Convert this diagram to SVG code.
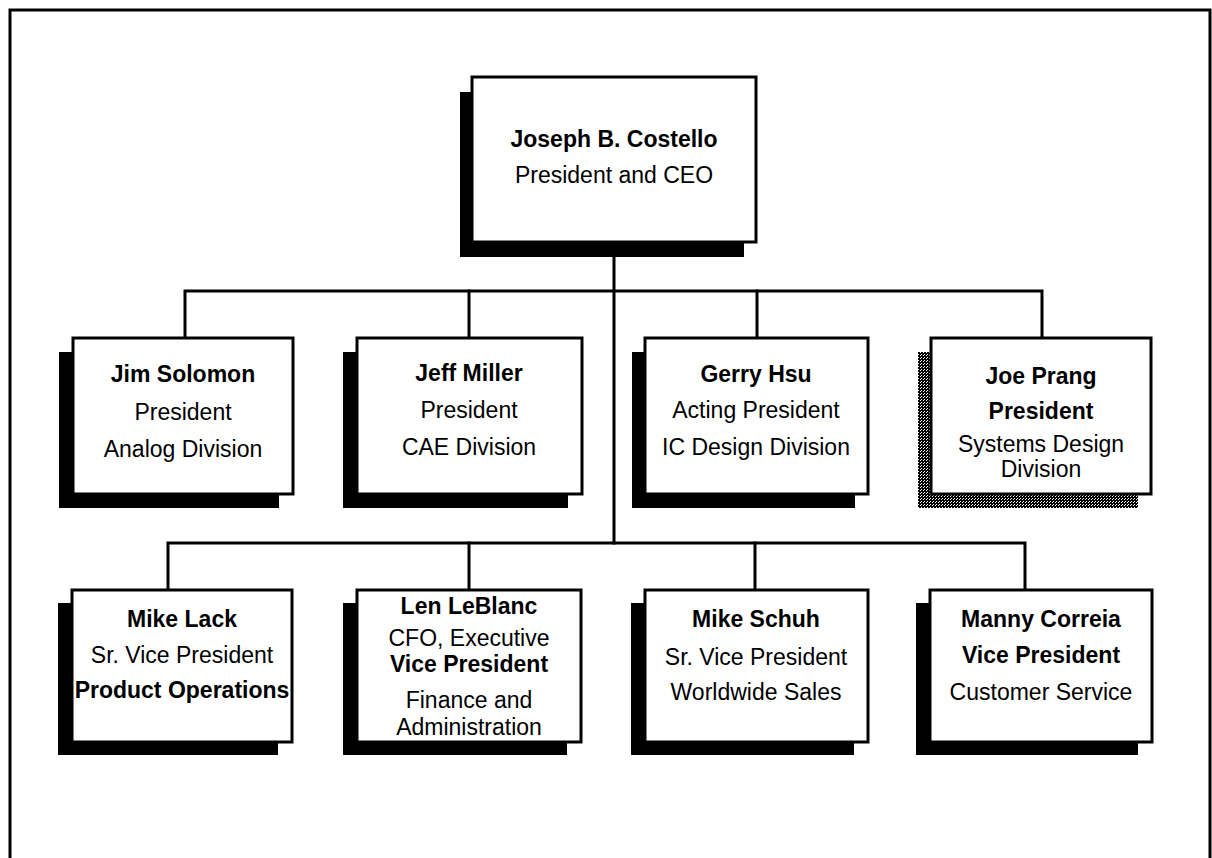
<svg xmlns="http://www.w3.org/2000/svg" width="1212" height="858" viewBox="0 0 1212 858">
<defs>
<pattern id="halftone" width="3" height="3" patternUnits="userSpaceOnUse">
<rect width="3" height="3" fill="#000"/>
<rect x="0" y="0" width="1" height="1" fill="#fff"/>
<rect x="2" y="1" width="1" height="1" fill="#fff"/>
</pattern>
</defs>
<style>
.frame{fill:none;stroke:#000;stroke-width:3}
.box{fill:#fff;stroke:#000;stroke-width:3}
.shadow{fill:#000}
.shadow-ht{fill:url(#halftone)}
.conn{fill:none;stroke:#000;stroke-width:3;stroke-linecap:square}
text{font-family:"Liberation Sans",Arial,Helvetica,sans-serif;font-size:23px;fill:#000;text-anchor:middle}
.b{font-weight:bold}
</style>
<rect width="1212" height="858" fill="#fff"/>
<rect class="frame" x="10" y="10" width="1200" height="900"/>

<g id="connectors">
<path class="conn" d="M614 242 V543"/>
<path class="conn" d="M185 338 V291 H1042 V338"/>
<path class="conn" d="M469 291 V338"/>
<path class="conn" d="M757 291 V338"/>
<path class="conn" d="M168 590 V543 H1025 V590"/>
<path class="conn" d="M469 543 V590"/>
<path class="conn" d="M755 543 V590"/>
</g>

<g id="ceo">
<rect class="shadow" x="460" y="92" width="284" height="165"/>
<rect class="box" x="472" y="77" width="284" height="165"/>
<text x="614" y="147" class="b">Joseph B. Costello</text>
<text x="614" y="183">President and CEO</text>
</g>

<g id="solomon">
<rect class="shadow" x="59" y="352" width="220" height="156"/>
<rect class="box" x="73" y="338" width="220" height="156"/>
<text x="183" y="382" class="b">Jim Solomon</text>
<text x="183" y="420">President</text>
<text x="183" y="457">Analog Division</text>
</g>

<g id="miller">
<rect class="shadow" x="343" y="352" width="225" height="156"/>
<rect class="box" x="357" y="338" width="225" height="156"/>
<text x="469" y="381" class="b">Jeff Miller</text>
<text x="469" y="418">President</text>
<text x="469" y="455">CAE Division</text>
</g>

<g id="hsu">
<rect class="shadow" x="632" y="352" width="223" height="156"/>
<rect class="box" x="645" y="338" width="223" height="156"/>
<text x="756" y="382" class="b">Gerry Hsu</text>
<text x="756" y="418">Acting President</text>
<text x="756" y="455">IC Design Division</text>
</g>

<g id="prang">
<rect class="shadow-ht" x="918" y="352" width="220" height="156"/>
<rect class="box" x="931" y="338" width="220" height="156"/>
<text x="1041" y="384" class="b">Joe Prang</text>
<text x="1041" y="419" class="b">President</text>
<text x="1041" y="452">Systems Design</text>
<text x="1041" y="477">Division</text>
</g>

<g id="lack">
<rect class="shadow" x="58" y="603" width="220" height="152"/>
<rect class="box" x="72" y="590" width="220" height="152"/>
<text x="182" y="627" class="b">Mike Lack</text>
<text x="182" y="663">Sr. Vice President</text>
<text x="182" y="698" class="b">Product Operations</text>
</g>

<g id="leblanc">
<rect class="shadow" x="343" y="603" width="224" height="152"/>
<rect class="box" x="357" y="590" width="224" height="152"/>
<text x="469" y="614" class="b">Len LeBlanc</text>
<text x="469" y="646">CFO, Executive</text>
<text x="469" y="672" class="b">Vice President</text>
<text x="469" y="708">Finance and</text>
<text x="469" y="735">Administration</text>
</g>

<g id="schuh">
<rect class="shadow" x="631" y="603" width="223" height="152"/>
<rect class="box" x="645" y="590" width="223" height="152"/>
<text x="756" y="627" class="b">Mike Schuh</text>
<text x="756" y="665">Sr. Vice President</text>
<text x="756" y="700">Worldwide Sales</text>
</g>

<g id="correia">
<rect class="shadow" x="916" y="603" width="222" height="152"/>
<rect class="box" x="930" y="590" width="222" height="152"/>
<text x="1041" y="627" class="b">Manny Correia</text>
<text x="1041" y="663" class="b">Vice President</text>
<text x="1041" y="700">Customer Service</text>
</g>
</svg>
